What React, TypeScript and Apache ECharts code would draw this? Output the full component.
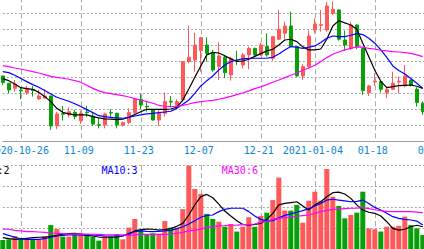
import React, { useEffect, useRef } from "react";
import * as echarts from "echarts";

// Trading days (index 0 = first, partly visible, candle)
const dates = [
  "2020-10-21","2020-10-22","2020-10-23",
  "2020-10-26","2020-10-27","2020-10-28","2020-10-29","2020-10-30",
  "2020-11-02","2020-11-03","2020-11-04","2020-11-05","2020-11-06",
  "2020-11-09","2020-11-10","2020-11-11","2020-11-12","2020-11-13",
  "2020-11-16","2020-11-17","2020-11-18","2020-11-19","2020-11-20",
  "2020-11-23","2020-11-24","2020-11-25","2020-11-26","2020-11-27",
  "2020-11-30","2020-12-01","2020-12-02","2020-12-03","2020-12-04",
  "2020-12-07","2020-12-08","2020-12-09","2020-12-10","2020-12-11",
  "2020-12-14","2020-12-15","2020-12-16","2020-12-17","2020-12-18",
  "2020-12-21","2020-12-22","2020-12-23","2020-12-24","2020-12-25",
  "2020-12-28","2020-12-29","2020-12-30","2020-12-31",
  "2021-01-04","2021-01-05","2021-01-06","2021-01-07","2021-01-08",
  "2021-01-11","2021-01-12","2021-01-13","2021-01-14","2021-01-15",
  "2021-01-18","2021-01-19","2021-01-20","2021-01-21","2021-01-22",
  "2021-01-25","2021-01-26","2021-01-27","2021-01-28","2021-01-29",
  "2021-02-01",
];

const tickDates = ["2020-10-26","2020-11-09","2020-11-23","2020-12-07","2020-12-21","2021-01-04","2021-01-18","2021-02-01"];
const tickTexts = ["2020-10-26","11-09","11-23","12-07","12-21","2021-01-04","01-18","02-01"];

const opens = [14.08,13.63,13.31,13.19,13.04,13.23,12.65,12.71,12.83,10.96,11.73,11.65,11.81,11.29,11.83,11.58,11.04,11.02,11.81,11.75,11.00,11.17,11.79,12.63,12.19,11.96,11.33,11.75,12.50,12.25,12.58,14.98,15.08,15.67,16.02,15.54,14.67,15.25,14.15,15.04,14.77,15.40,15.81,15.40,15.92,15.19,16.38,16.75,17.21,15.92,14.08,14.67,16.96,17.25,16.96,18.00,18.21,16.33,15.81,17.27,15.81,13.04,13.71,13.73,13.04,13.25,13.71,13.46,13.83,13.25,12.38];
const closes = [13.67,13.21,13.58,13.15,13.31,13.17,12.83,12.83,10.96,11.71,11.69,11.85,11.54,11.75,11.79,11.08,11.00,11.71,11.77,11.02,11.17,11.79,12.63,12.27,12.15,11.33,11.75,12.48,12.46,12.48,14.98,15.25,16.02,16.48,15.50,14.46,15.33,14.29,15.19,15.00,15.40,15.81,15.40,16.02,15.40,16.54,17.00,17.21,15.92,14.08,14.67,16.58,17.33,17.29,18.46,18.25,16.38,16.02,17.27,15.92,13.17,13.46,13.75,13.25,13.25,13.63,13.75,14.08,13.52,12.42,11.85];
const lows = [13.52,13.00,13.10,12.63,12.90,12.79,12.58,12.63,10.71,10.75,11.29,11.50,11.38,11.08,11.54,10.96,10.81,10.81,11.54,10.81,10.92,11.08,11.65,12.00,11.85,11.29,10.96,11.54,12.13,12.13,12.48,14.88,14.35,14.35,14.98,14.35,13.83,13.94,13.79,14.77,14.56,14.50,15.33,15.33,15.29,15.04,16.33,16.38,15.90,14.04,13.83,14.56,16.75,16.85,16.85,17.90,16.29,15.67,15.71,15.75,12.90,12.83,13.46,13.04,12.69,13.21,13.00,13.38,13.42,12.17,11.65];
const highs = [14.10,13.65,13.83,13.38,13.46,13.46,13.21,13.25,12.85,11.85,12.21,12.13,11.96,11.92,12.21,11.75,11.44,11.79,12.00,11.79,11.23,12.06,12.69,12.96,12.48,12.00,11.96,13.06,12.83,12.63,15.02,17.23,16.79,16.50,16.50,15.71,16.19,15.40,15.29,15.67,15.54,15.92,15.85,16.17,16.75,16.56,18.21,17.48,18.10,15.95,14.83,16.92,17.69,18.21,18.70,18.75,18.25,16.92,17.48,17.31,15.85,13.52,14.25,13.75,13.38,14.35,14.04,14.77,13.85,13.38,12.48];

const ma5 = [13.92,13.79,13.58,13.35,13.29,13.25,13.06,12.79,12.48,12.06,11.81,11.71,11.65,11.65,11.65,11.54,11.46,11.40,11.38,11.35,11.38,11.50,11.67,11.85,12.00,12.00,12.00,12.00,12.02,12.13,12.58,13.27,14.00,14.71,15.40,15.56,15.52,15.35,15.15,15.00,15.02,15.13,15.31,15.48,15.65,15.75,16.02,16.33,16.38,16.23,15.90,15.71,15.71,15.77,16.38,17.21,17.54,17.40,17.27,17.00,16.13,15.29,14.44,13.75,13.35,13.42,13.48,13.50,13.52,13.44,13.31];
const ma10 = [14.35,14.29,14.13,13.92,13.73,13.54,13.38,13.17,12.96,12.75,12.63,12.50,12.35,12.17,11.98,11.79,11.60,11.54,11.50,11.46,11.44,11.50,11.58,11.65,11.71,11.75,11.79,11.83,11.88,12.06,12.31,12.58,13.00,13.46,13.79,14.08,14.46,14.77,14.98,15.08,15.15,15.19,15.19,15.19,15.19,15.25,15.46,15.71,15.92,15.88,15.81,15.88,15.96,16.17,16.44,16.58,16.54,16.54,16.63,16.73,16.67,16.44,16.13,15.71,15.25,14.71,14.42,14.21,13.92,13.63,13.31];
const ma30 = [14.73,14.67,14.58,14.52,14.44,14.35,14.27,14.17,14.06,14.00,13.94,13.88,13.79,13.69,13.50,13.31,13.15,13.04,12.98,12.92,12.85,12.77,12.67,12.58,12.48,12.38,12.25,12.19,12.17,12.19,12.25,12.33,12.42,12.48,12.52,12.56,12.63,12.71,12.81,12.92,13.02,13.15,13.29,13.40,13.54,13.69,13.83,13.98,14.13,14.27,14.44,14.58,14.75,14.98,15.23,15.44,15.58,15.71,15.81,15.90,15.88,15.81,15.77,15.69,15.65,15.60,15.58,15.54,15.50,15.40,15.29];

const volumes = [43,46,62,51,46,46,46,62,114,95,59,59,67,75,67,59,40,59,59,71,46,102,143,90,67,75,67,133,102,98,190,397,286,262,167,143,130,106,119,83,106,151,106,157,173,233,340,183,183,210,125,230,273,230,381,249,205,146,162,173,273,98,94,83,106,106,110,154,114,98,67];
const volMa5 = [54,49,46,48,51,54,56,56,60,65,71,73,75,70,65,62,57,56,56,57,62,73,86,92,95,94,90,92,97,108,122,162,210,249,260,244,214,181,157,135,117,114,117,122,141,170,210,217,221,225,205,186,210,225,249,268,271,262,241,210,186,175,170,157,130,98,90,94,106,113,106];
const volMa10 = [73,65,56,48,46,46,46,49,56,62,65,67,67,67,67,67,65,62,62,62,62,71,83,86,84,83,84,86,89,97,106,119,135,151,160,162,178,189,194,194,194,178,157,141,133,135,148,160,167,175,183,192,205,217,233,237,233,229,225,227,233,217,198,186,170,154,146,141,138,133,114];
const volMa30 = [95,94,89,86,83,83,81,79,76,75,73,71,71,71,71,70,70,68,67,67,67,65,67,70,70,70,70,70,71,75,79,86,90,95,102,108,110,111,113,114,116,116,119,127,133,141,146,149,152,156,159,162,170,178,184,189,190,192,194,195,197,192,187,183,179,178,178,178,178,176,173];

const UP = "#ff5858";
const DOWN = "#08a008";
const FONT = '"DejaVu Sans Mono", monospace';

export default function App() {
  const ref = useRef<HTMLDivElement>(null);
  useEffect(() => {
    if (!ref.current) return;
    const chart = echarts.init(ref.current, undefined, { renderer: "svg" });
    const candleData = opens.map((o, i) => [o, closes[i], lows[i], highs[i]]);
    const volData = volumes.map((v, i) => ({
      value: v,
      itemStyle: { color: closes[i] >= opens[i] ? UP : DOWN },
    }));
    const showTick = (_idx: number, value: string) => tickDates.indexOf(value) >= 0;
    const vSplit = { show: true, interval: showTick, lineStyle: { color: "#aaa", width: 1, type: [5, 3] } };
    const hSplit = { show: true, lineStyle: { color: "#a8a8a8", width: 1, type: [2, 2] } };
    const maLine = (name: string, data: number[], color: string, axis: number) => ({
      name, type: "line", data, xAxisIndex: axis, yAxisIndex: axis,
      symbol: "none", showSymbol: false, silent: true,
      lineStyle: { color, width: 1.2 }, z: 3,
    });
    chart.setOption({
      animation: false,
      backgroundColor: "#fff",
      grid: [
        { left: 32.8, top: 17.3, width: 432, height: 144, outerBoundsMode: "none" },
        { left: 32.8, top: 185, width: 432, height: 84, outerBoundsMode: "none" },
      ],
      xAxis: [
        {
          type: "category", data: dates, gridIndex: 0, boundaryGap: false,
          axisLine: { show: true, lineStyle: { color: "#a0a0a0", width: 1 } },
          axisTick: { show: false },
          axisLabel: {
            interval: showTick,
            formatter: (v: string) => tickTexts[tickDates.indexOf(v)] ?? "",
            color: "#0b86d2", fontFamily: FONT, fontSize: 10, margin: 4,
            padding: [0, 4, 0, 0],
          },
          splitLine: vSplit,
        },
        {
          type: "category", data: dates, gridIndex: 1, boundaryGap: false, position: "top",
          axisLine: { show: true, lineStyle: { color: "#a0a0a0", width: 1 } },
          axisTick: { show: false },
          axisLabel: { show: false },
          splitLine: vSplit,
        },
      ],
      yAxis: [
        {
          type: "value", gridIndex: 0, min: 10, max: 19, interval: 1,
          axisLine: { show: false }, axisTick: { show: false }, axisLabel: { show: false },
          splitLine: hSplit,
        },
        {
          type: "value", gridIndex: 1, min: 0, max: 400, interval: 100,
          axisLine: { show: false }, axisTick: { show: false }, axisLabel: { show: false },
          splitLine: hSplit,
        },
      ],
      graphic: [
        { type: "text", x: 9.5, y: 190, style: { text: "MA5:2", fill: "#000", font: `10px ${FONT}`, verticalAlign: "middle" } },
        { type: "text", x: 131.5, y: 190, style: { text: "MA10:3", fill: "#0000ff", font: `10px ${FONT}`, verticalAlign: "middle" } },
        { type: "text", x: 251.8, y: 190, style: { text: "MA30:6", fill: "#ff00ff", font: `10px ${FONT}`, verticalAlign: "middle" } },
      ],
      series: [
        {
          name: "K", type: "candlestick", data: candleData, xAxisIndex: 0, yAxisIndex: 0,
          barWidth: 4, silent: true,
          itemStyle: { color: UP, color0: DOWN, borderColor: UP, borderColor0: DOWN, borderWidth: 1 },
        },
        maLine("MA5", ma5, "#000000", 0),
        maLine("MA10", ma10, "#0000ff", 0),
        maLine("MA30", ma30, "#ff00ff", 0),
        {
          name: "VOL", type: "bar", data: volData, xAxisIndex: 1, yAxisIndex: 1,
          barWidth: 5, silent: true,
        },
        maLine("VMA5", volMa5, "#000000", 1),
        maLine("VMA10", volMa10, "#0000ff", 1),
        maLine("VMA30", volMa30, "#ff00ff", 1),
      ],
    });
    return () => chart.dispose();
  }, []);
  return (
    <div style={{ position: "fixed", left: 0, top: 0, width: 424, height: 249, overflow: "hidden", background: "#fff" }}>
      <div ref={ref} style={{ position: "absolute", left: -30, top: -20, width: 484, height: 279 }} />
    </div>
  );
}
